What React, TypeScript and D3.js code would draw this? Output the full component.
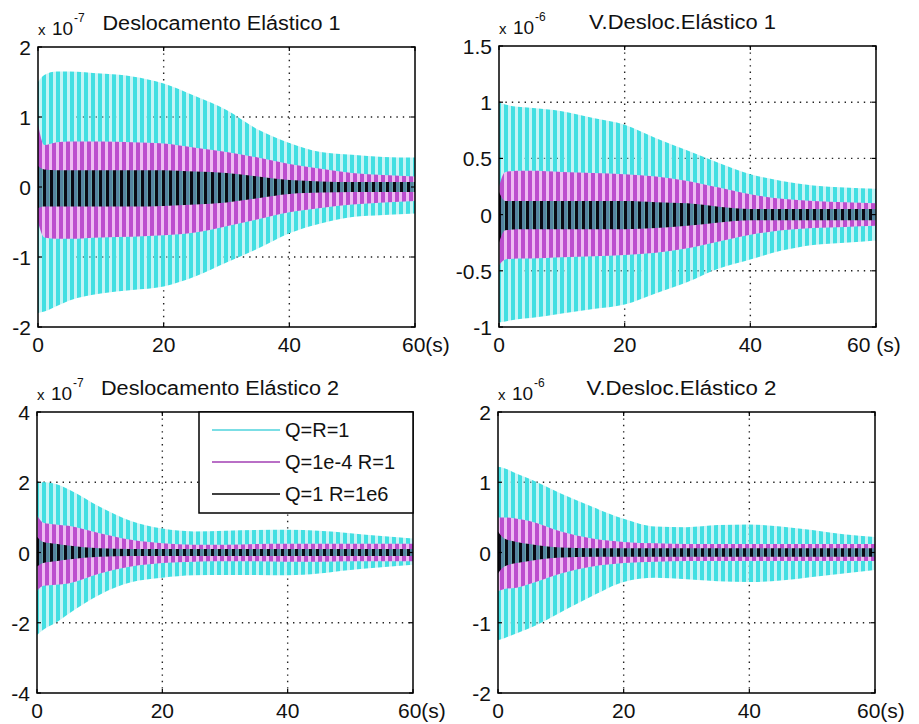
import React from "react";
import * as d3 from "d3";

// ---------- DATA (envelopes) ----------
const times = [0, 1, 3, 5, 10, 15, 20, 25, 30, 35, 40, 45, 50, 55, 60];
const xTicks = [0, 20, 40, 60];
const xLabelsA = ["0", "20", "40", "60(s)"];
const xLabelsB = ["0", "20", "40", "60 (s)"];
const seriesNames = ["Q=R=1", "Q=1e-4 R=1", "Q=1 R=1e6"];

// Deslocamento Elástico 1 (x 10^-7)
const d1CyanUp = [1.5, 1.6, 1.65, 1.65, 1.62, 1.58, 1.48, 1.3, 1.1, 0.82, 0.63, 0.5, 0.46, 0.43, 0.42];
const d1CyanLo = [-1.8, -1.78, -1.7, -1.62, -1.52, -1.47, -1.42, -1.28, -1.08, -0.88, -0.66, -0.52, -0.43, -0.4, -0.38];
const d1MagUp = [0.9, 0.6, 0.64, 0.65, 0.65, 0.64, 0.62, 0.56, 0.5, 0.42, 0.33, 0.26, 0.2, 0.17, 0.15];
const d1MagLo = [-0.5, -0.72, -0.74, -0.74, -0.72, -0.71, -0.69, -0.65, -0.56, -0.46, -0.36, -0.3, -0.25, -0.22, -0.2];
const d1BlkUp = [0.3, 0.25, 0.24, 0.24, 0.24, 0.24, 0.24, 0.22, 0.2, 0.15, 0.1, 0.08, 0.07, 0.07, 0.07];
const d1BlkLo = [-0.3, -0.28, -0.28, -0.28, -0.28, -0.28, -0.27, -0.25, -0.22, -0.16, -0.1, -0.08, -0.07, -0.07, -0.07];

// V.Desloc.Elástico 1 (x 10^-6)
const v1CyanUp = [1.0, 0.98, 0.96, 0.95, 0.92, 0.86, 0.8, 0.68, 0.57, 0.46, 0.36, 0.3, 0.26, 0.24, 0.23];
const v1CyanLo = [-0.96, -0.95, -0.93, -0.92, -0.88, -0.84, -0.8, -0.7, -0.6, -0.48, -0.4, -0.32, -0.27, -0.25, -0.23];
const v1MagUp = [0.25, 0.38, 0.39, 0.39, 0.38, 0.37, 0.36, 0.34, 0.3, 0.24, 0.18, 0.14, 0.12, 0.11, 0.1];
const v1MagLo = [-0.45, -0.4, -0.39, -0.39, -0.38, -0.37, -0.36, -0.34, -0.3, -0.24, -0.18, -0.14, -0.12, -0.11, -0.1];
const v1BlkUp = [0.2, 0.12, 0.12, 0.12, 0.12, 0.12, 0.12, 0.11, 0.1, 0.07, 0.05, 0.05, 0.05, 0.05, 0.05];
const v1BlkLo = [-0.25, -0.14, -0.13, -0.13, -0.13, -0.13, -0.13, -0.12, -0.1, -0.07, -0.05, -0.05, -0.05, -0.05, -0.05];

// Deslocamento Elástico 2 (x 10^-7)
const d2CyanUp = [2.0, 2.0, 1.95, 1.8, 1.3, 0.9, 0.68, 0.6, 0.62, 0.64, 0.65, 0.62, 0.55, 0.47, 0.4];
const d2CyanLo = [-2.35, -2.2, -2.0, -1.75, -1.2, -0.85, -0.72, -0.65, -0.64, -0.64, -0.65, -0.6, -0.5, -0.42, -0.35];
const d2MagUp = [1.05, 0.85, 0.8, 0.76, 0.55, 0.36, 0.26, 0.22, 0.22, 0.24, 0.25, 0.25, 0.25, 0.25, 0.25];
const d2MagLo = [-1.1, -0.95, -0.92, -0.88, -0.6, -0.4, -0.3, -0.26, -0.25, -0.25, -0.26, -0.26, -0.25, -0.25, -0.25];
const d2BlkUp = [0.45, 0.3, 0.25, 0.2, 0.12, 0.1, 0.1, 0.1, 0.1, 0.1, 0.1, 0.1, 0.1, 0.1, 0.1];
const d2BlkLo = [-0.4, -0.3, -0.25, -0.2, -0.12, -0.1, -0.1, -0.1, -0.1, -0.1, -0.1, -0.1, -0.1, -0.1, -0.1];

// V.Desloc.Elástico 2 (x 10^-6)
const v2CyanUp = [1.22, 1.2, 1.12, 1.05, 0.84, 0.65, 0.48, 0.37, 0.36, 0.39, 0.4, 0.37, 0.32, 0.26, 0.22];
const v2CyanLo = [-1.25, -1.22, -1.15, -1.08, -0.85, -0.62, -0.42, -0.36, -0.38, -0.41, -0.42, -0.4, -0.35, -0.3, -0.25];
const v2MagUp = [0.5, 0.5, 0.48, 0.45, 0.3, 0.2, 0.15, 0.13, 0.12, 0.12, 0.12, 0.12, 0.12, 0.12, 0.12];
const v2MagLo = [-0.55, -0.52, -0.5, -0.45, -0.3, -0.2, -0.15, -0.13, -0.12, -0.12, -0.12, -0.12, -0.12, -0.12, -0.12];
const v2BlkUp = [0.3, 0.2, 0.15, 0.12, 0.07, 0.06, 0.06, 0.06, 0.06, 0.06, 0.06, 0.06, 0.06, 0.06, 0.06];
const v2BlkLo = [-0.3, -0.2, -0.15, -0.12, -0.07, -0.06, -0.06, -0.06, -0.06, -0.06, -0.06, -0.06, -0.06, -0.06, -0.06];

const d1YTicks = [-2, -1, 0, 1, 2];
const v1YTicks = [-1, -0.5, 0, 0.5, 1, 1.5];
const d2YTicks = [-4, -2, 0, 2, 4];
const v2YTicks = [-2, -1, 0, 1, 2];

const FONT = "'Liberation Sans', Arial, Helvetica, sans-serif";
const W = 919;
const H = 724;

type Box = { x0: number; x1: number; y0: number; y1: number };

const panels = [
  {
    id: "d1", title: "Deslocamento Elástico 1", titleLen: 238, exp: "-7", yTicks: d1YTicks,
    xLabels: xLabelsA, lastOffset: -13,
    box: { x0: 38, x1: 415, y0: 47, y1: 327 } as Box,
    bands: [[d1CyanUp, d1CyanLo], [d1MagUp, d1MagLo], [d1BlkUp, d1BlkLo]], legend: false,
  },
  {
    id: "v1", title: "V.Desloc.Elástico 1", titleLen: 187, exp: "-6", yTicks: v1YTicks,
    xLabels: xLabelsB, lastOffset: -29,
    box: { x0: 499, x1: 876, y0: 46, y1: 327 } as Box,
    bands: [[v1CyanUp, v1CyanLo], [v1MagUp, v1MagLo], [v1BlkUp, v1BlkLo]], legend: false,
  },
  {
    id: "d2", title: "Deslocamento Elástico 2", titleLen: 238, exp: "-7", yTicks: d2YTicks,
    xLabels: xLabelsA, lastOffset: -15,
    box: { x0: 37, x1: 413, y0: 412, y1: 693 } as Box,
    bands: [[d2CyanUp, d2CyanLo], [d2MagUp, d2MagLo], [d2BlkUp, d2BlkLo]], legend: true,
  },
  {
    id: "v2", title: "V.Desloc.Elástico 2", titleLen: 190, exp: "-6", yTicks: v2YTicks,
    xLabels: xLabelsA, lastOffset: -18,
    box: { x0: 498, x1: 875, y0: 412, y1: 693 } as Box,
    bands: [[v2CyanUp, v2CyanLo], [v2MagUp, v2MagLo], [v2BlkUp, v2BlkLo]], legend: false,
  },
];

const fills = ["url(#patC)", "url(#patM)", "url(#patK)"];
const legendColors = ["#4fd3dc", "#a23fb3", "#000000"];

function Panel({ p }: { p: (typeof panels)[number] }) {
  const { box } = p;
  const x = d3.scaleLinear().domain([0, 60]).range([box.x0, box.x1]);
  const yd = d3.extent(p.yTicks) as [number, number];
  const y = d3.scaleLinear().domain(yd).range([box.y1, box.y0]);
  const clipId = "clip-" + p.id;
  const cx = (box.x0 + box.x1) / 2 - 5;
  const tickLen = 4;

  return (
    <g>
      <defs>
        <clipPath id={clipId}>
          <rect x={box.x0} y={box.y0} width={box.x1 - box.x0} height={box.y1 - box.y0} />
        </clipPath>
      </defs>
      <rect x={box.x0} y={box.y0} width={box.x1 - box.x0} height={box.y1 - box.y0} fill="#fff" />
      {/* grid */}
      <g stroke="#222" strokeWidth={1.4} strokeDasharray="1.4,5" fill="none">
        {xTicks.filter((t) => t > 0 && t < 60).map((t) => (
          <line key={"gx" + t} x1={x(t)} x2={x(t)} y1={box.y0} y2={box.y1} />
        ))}
        {p.yTicks.filter((t) => t > yd[0] && t < yd[1]).map((t) => (
          <line key={"gy" + t} x1={box.x0} x2={box.x1} y1={y(t)} y2={y(t)} />
        ))}
      </g>
      {/* data bands */}
      <g clipPath={`url(#${clipId})`}>
        {p.bands.map(([up, lo], si) => {
          const area = d3
            .area<number>()
            .x((_, i) => x(times[i]))
            .y0((_, i) => y(lo[i]))
            .y1((_, i) => y(up[i]))
            .curve(d3.curveMonotoneX);
          return <path key={si} d={area(up) || ""} fill={fills[si]} />;
        })}
      </g>
      {/* box */}
      <rect x={box.x0} y={box.y0} width={box.x1 - box.x0} height={box.y1 - box.y0} fill="none" stroke="#000" strokeWidth={1.5} />
      {/* ticks */}
      <g stroke="#000" strokeWidth={1.2}>
        {xTicks.map((t) => (
          <g key={"tx" + t}>
            <line x1={x(t)} x2={x(t)} y1={box.y1} y2={box.y1 - tickLen} />
            <line x1={x(t)} x2={x(t)} y1={box.y0} y2={box.y0 + tickLen} />
          </g>
        ))}
        {p.yTicks.map((t) => (
          <g key={"ty" + t}>
            <line x1={box.x0} x2={box.x0 + tickLen} y1={y(t)} y2={y(t)} />
            <line x1={box.x1} x2={box.x1 - tickLen} y1={y(t)} y2={y(t)} />
          </g>
        ))}
      </g>
      {/* tick labels */}
      <g fontFamily={FONT} fontSize={21} fill="#111">
        {xTicks.map((t, i) => {
          const last = i === xTicks.length - 1;
          return (
            <text
              key={"lx" + t}
              x={last ? x(t) + p.lastOffset : x(t)}
              y={box.y1 + 25}
              textAnchor={last ? "start" : "middle"}
            >
              {p.xLabels[i]}
            </text>
          );
        })}
        {p.yTicks.map((t) => (
          <text key={"ly" + t} x={box.x0 - 7} y={y(t) + 8} textAnchor="end">
            {String(t)}
          </text>
        ))}
      </g>
      {/* exponent + title */}
      <g fontFamily={FONT} fill="#111">
        <text x={box.x0} y={box.y0 - 12} fontSize={15}>x</text>
        <text x={box.x0 + 14} y={box.y0 - 12} fontSize={19}>10</text>
        <text x={box.x0 + 36} y={box.y0 - 25} fontSize={12}>{p.exp}</text>
        <text x={cx} y={box.y0 - 17} fontSize={20} textAnchor="middle" textLength={p.titleLen} lengthAdjust="spacingAndGlyphs">
          {p.title}
        </text>
      </g>
      {p.legend && (
        <g>
          <rect x={199} y={box.y0} width={box.x1 - 199} height={101} fill="#fff" stroke="#000" strokeWidth={1.5} />
          {seriesNames.map((name, i) => {
            const ly = box.y0 + 18 + i * 32;
            return (
              <g key={name}>
                <line x1={212} x2={280} y1={ly} y2={ly} stroke={legendColors[i]} strokeWidth={1.5} />
                <text x={285} y={ly + 7} fontFamily={FONT} fontSize={20} fill="#111">{name}</text>
              </g>
            );
          })}
        </g>
      )}
    </g>
  );
}

export default function App() {
  return (
    <svg
      width={W}
      height={H}
      viewBox={`0 0 ${W} ${H}`}
      style={{ position: "absolute", left: 0, top: 0, background: "#fff", display: "block" }}
    >
      <defs>
        <pattern id="patC" patternUnits="userSpaceOnUse" width={7} height={10}>
          <rect width={7} height={10} fill="#7fe8ea" fillOpacity={0.45} />
          <rect x={0} width={4} height={10} fill="#42dfe2" />
        </pattern>
        <pattern id="patM" patternUnits="userSpaceOnUse" width={7} height={10} patternTransform="translate(3,0)">
          <rect width={7} height={10} fill="#eebbf2" />
          <rect x={0} width={4} height={10} fill="#bc4ece" />
        </pattern>
        <pattern id="patK" patternUnits="userSpaceOnUse" width={7} height={10} patternTransform="translate(1,0)">
          <rect width={7} height={10} fill="#2a9b8e" fillOpacity={0.7} />
          <rect x={0} width={3} height={10} fill="#0a0a14" />
        </pattern>
      </defs>
      <rect width={W} height={H} fill="#fff" />
      {panels.map((p) => (
        <Panel key={p.id} p={p} />
      ))}
    </svg>
  );
}
